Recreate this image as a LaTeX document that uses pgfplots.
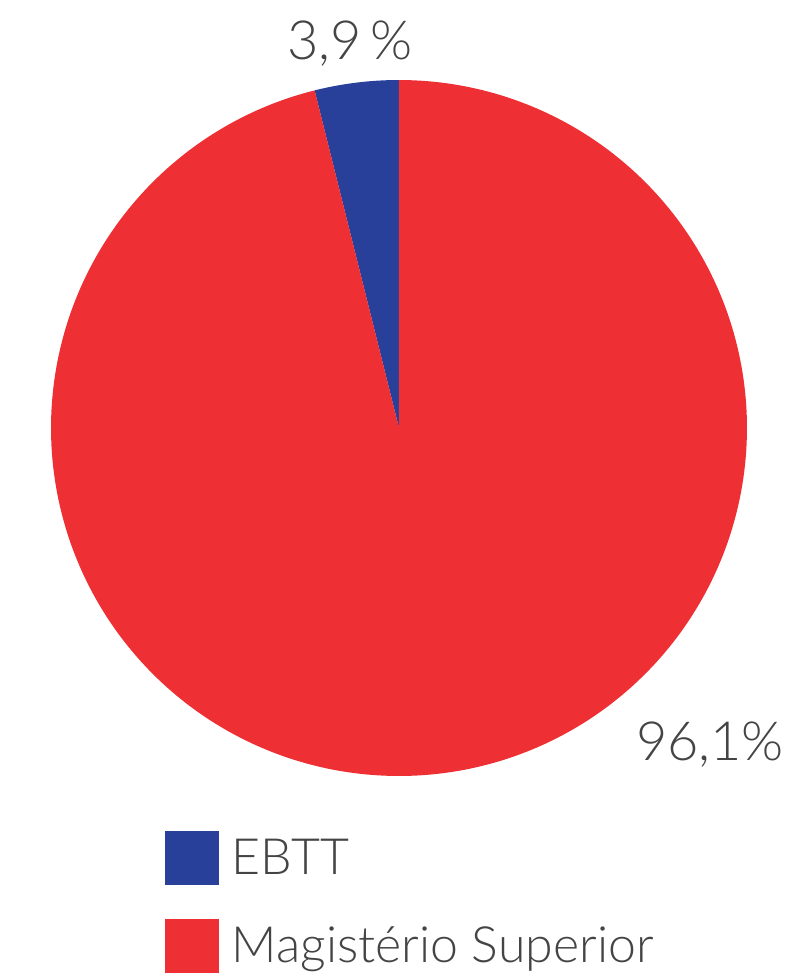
\documentclass[border=0pt]{standalone}
\usepackage{fontspec}
\setmainfont{Lato}[UprightFont={* Light}]
\usepackage{pgfplots}
\pgfplotsset{compat=1.18}
\usepgfplotslibrary{polar}
\definecolor{ebtt}{RGB}{40,64,154}
\definecolor{magi}{RGB}{238,48,53}
\definecolor{txt}{RGB}{68,68,68}
% values (percent)
\def\valA{3.9}
\def\valB{96.1}
\begin{document}
\begin{tikzpicture}
\useasboundingbox (0,0) rectangle (393.5pt,488pt);
\pgfmathsetmacro{\angA}{90+3.6*\valA}
\pgfmathsetmacro{\angB}{\angA+3.6*\valB}
\begin{polaraxis}[
  at={(199.5pt,274pt)}, anchor=center,
  scale only axis, width=348pt, height=348pt,
  ymin=0, ymax=1,
  hide axis,
  clip=false,
]
\addplot[fill=ebtt, draw=none, domain=90:\angA, samples=40] {1} -- (0,0) -- cycle;
\addplot[fill=magi, draw=none, domain=\angA:\angB, samples=300] {1} -- (0,0) -- cycle;
\end{polaraxis}
\begin{axis}[
  at={(0pt,0pt)}, anchor=south west,
  scale only axis, width=393.5pt, height=488pt,
  xmin=0, xmax=1, ymin=0, ymax=1,
  hide axis, clip=false,
  legend style={at={(axis description cs:0.20966,0.14857)}, anchor=north west, draw=none, fill=none,
    font=\fontsize{25pt}{29pt}\selectfont\color{txt},
    row sep=17pt, inner sep=0pt,
    /tikz/every even column/.append style={column sep=0pt}},
  legend cell align=left,
]
\addlegendimage{legend image code/.code={\fill[ebtt] (0pt,-13.25pt) rectangle (26.5pt,13.25pt); \path[draw=none,fill=none] (26.5pt,0) -- (31pt,0);}}
\addlegendentry{EBTT}
\addlegendimage{legend image code/.code={\fill[magi] (0pt,-13.25pt) rectangle (26.5pt,13.25pt); \path[draw=none,fill=none] (26.5pt,0) -- (31pt,0);}}
\addlegendentry{Magistério Superior}
\end{axis}
\node[text=txt, font=\fontsize{27pt}{30pt}\selectfont] at (175pt,466pt) {3,9\,\%};
\node[text=txt, font=\fontsize{27pt}{30pt}\selectfont] at (355pt,115.5pt) {96,1\%};
\end{tikzpicture}
\end{document}
